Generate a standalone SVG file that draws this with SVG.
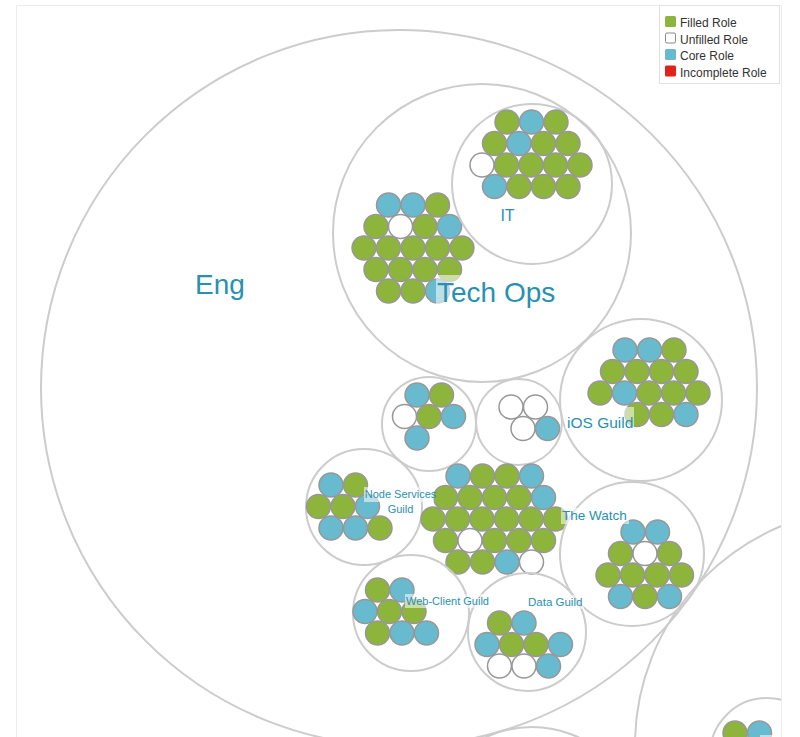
<svg xmlns="http://www.w3.org/2000/svg" width="800" height="737" viewBox="0 0 800 737">
<defs>
<style>
.c{fill:none;stroke:#cccccc;stroke-width:2}
.r{stroke:#979797;stroke-width:1.5}
.g{fill:#8db53b}
.b{fill:#68bbcf}
.w{fill:#ffffff}
.lb{fill:#ffffff;fill-opacity:0.55}
.t{font-family:"Liberation Sans",Arial,sans-serif;fill:#2990b2}
.lg{font-family:"Liberation Sans",Arial,sans-serif;font-size:12px;fill:#333333}
</style>
<clipPath id="page"><rect x="16" y="5" width="765" height="732"/></clipPath>
</defs>
<rect x="0" y="0" width="800" height="737" fill="#ffffff"/>
<path d="M16.5 737 V5.5 H781.5 V737" fill="none" stroke="#ececec" stroke-width="1"/>
<g clip-path="url(#page)">
<g id="eng">
<circle class="c" cx="399" cy="388" r="358"/>
</g>
<g id="other-top">
<circle class="c" cx="872" cy="745" r="237"/>
<circle class="c" cx="532" cy="837" r="110"/>
</g>
<g id="bottom-right">
<circle class="c" cx="767" cy="755" r="57"/>
<circle class="r g" cx="735" cy="733" r="12"/>
<circle class="r b" cx="759.5" cy="733" r="12"/>
<rect class="lb" x="760" y="735" width="30" height="10"/>
</g>
<g id="tech-ops">
<circle class="c" cx="482" cy="233" r="149"/>
<circle class="r b" cx="388.5" cy="205" r="12"/>
<circle class="r b" cx="413" cy="205" r="12"/>
<circle class="r g" cx="437.5" cy="205" r="12"/>
<circle class="r g" cx="376" cy="226.5" r="12"/>
<circle class="r w" cx="400.5" cy="226.5" r="12"/>
<circle class="r g" cx="425" cy="226.5" r="12"/>
<circle class="r b" cx="449.5" cy="226.5" r="12"/>
<circle class="r g" cx="364" cy="248" r="12"/>
<circle class="r g" cx="388.5" cy="248" r="12"/>
<circle class="r g" cx="413" cy="248" r="12"/>
<circle class="r g" cx="437.5" cy="248" r="12"/>
<circle class="r g" cx="462" cy="248" r="12"/>
<circle class="r g" cx="376" cy="269.5" r="12"/>
<circle class="r g" cx="400.5" cy="269.5" r="12"/>
<circle class="r g" cx="425" cy="269.5" r="12"/>
<circle class="r g" cx="449.5" cy="269.5" r="12"/>
<circle class="r g" cx="388.5" cy="291" r="12"/>
<circle class="r g" cx="413" cy="291" r="12"/>
<circle class="r b" cx="437.5" cy="291" r="12"/>
</g>
<g id="it">
<circle class="c" cx="532" cy="184" r="80"/>
<circle class="r g" cx="507" cy="122" r="12"/>
<circle class="r b" cx="531.5" cy="122" r="12"/>
<circle class="r g" cx="556" cy="122" r="12"/>
<circle class="r g" cx="494.5" cy="143.5" r="12"/>
<circle class="r b" cx="519" cy="143.5" r="12"/>
<circle class="r g" cx="543.5" cy="143.5" r="12"/>
<circle class="r g" cx="568" cy="143.5" r="12"/>
<circle class="r w" cx="482" cy="165" r="12"/>
<circle class="r g" cx="506.5" cy="165" r="12"/>
<circle class="r g" cx="531" cy="165" r="12"/>
<circle class="r g" cx="555.5" cy="165" r="12"/>
<circle class="r g" cx="580" cy="165" r="12"/>
<circle class="r b" cx="494.5" cy="186.5" r="12"/>
<circle class="r g" cx="519" cy="186.5" r="12"/>
<circle class="r g" cx="543.5" cy="186.5" r="12"/>
<circle class="r g" cx="568" cy="186.5" r="12"/>
<rect class="lb" x="500" y="207" width="15" height="17"/>
<text class="t" x="507.5" y="221" font-size="16" text-anchor="middle">IT</text>
</g>
<g id="ios-guild">
<circle class="c" cx="641" cy="400" r="81"/>
<circle class="r b" cx="625" cy="350" r="12"/>
<circle class="r b" cx="649.5" cy="350" r="12"/>
<circle class="r g" cx="674" cy="350" r="12"/>
<circle class="r g" cx="612.5" cy="371.5" r="12"/>
<circle class="r g" cx="637" cy="371.5" r="12"/>
<circle class="r g" cx="661.5" cy="371.5" r="12"/>
<circle class="r g" cx="686" cy="371.5" r="12"/>
<circle class="r g" cx="600" cy="393" r="12"/>
<circle class="r b" cx="624.5" cy="393" r="12"/>
<circle class="r g" cx="649" cy="393" r="12"/>
<circle class="r g" cx="673.5" cy="393" r="12"/>
<circle class="r g" cx="698" cy="393" r="12"/>
<circle class="r g" cx="637" cy="414.5" r="12"/>
<circle class="r g" cx="661.5" cy="414.5" r="12"/>
<circle class="r b" cx="686" cy="414.5" r="12"/>
</g>
<g id="team-a">
<circle class="c" cx="429" cy="424" r="47"/>
<circle class="r b" cx="417" cy="395" r="12"/>
<circle class="r g" cx="441.5" cy="395" r="12"/>
<circle class="r w" cx="404.5" cy="416.5" r="12"/>
<circle class="r g" cx="429" cy="416.5" r="12"/>
<circle class="r b" cx="453.5" cy="416.5" r="12"/>
<circle class="r b" cx="417" cy="438" r="12"/>
</g>
<g id="team-b">
<circle class="c" cx="519" cy="422" r="43"/>
<circle class="r w" cx="511" cy="407" r="12"/>
<circle class="r w" cx="535.5" cy="407" r="12"/>
<circle class="r w" cx="523" cy="428.5" r="12"/>
<circle class="r b" cx="547.5" cy="428.5" r="12"/>
</g>
<g id="node-services-guild">
<circle class="c" cx="364" cy="507" r="58"/>
<circle class="r b" cx="331" cy="485" r="12"/>
<circle class="r g" cx="355.5" cy="485" r="12"/>
<circle class="r g" cx="318.5" cy="506.5" r="12"/>
<circle class="r g" cx="343" cy="506.5" r="12"/>
<circle class="r b" cx="367.5" cy="506.5" r="12"/>
<circle class="r b" cx="331" cy="528" r="12"/>
<circle class="r b" cx="355.5" cy="528" r="12"/>
<circle class="r g" cx="380" cy="528" r="12"/>
</g>
<g id="eng-roles">
<circle class="r b" cx="458" cy="476" r="12"/>
<circle class="r g" cx="482.5" cy="476" r="12"/>
<circle class="r g" cx="507" cy="476" r="12"/>
<circle class="r b" cx="531.5" cy="476" r="12"/>
<circle class="r g" cx="445.5" cy="497.5" r="12"/>
<circle class="r g" cx="470" cy="497.5" r="12"/>
<circle class="r g" cx="494.5" cy="497.5" r="12"/>
<circle class="r g" cx="519" cy="497.5" r="12"/>
<circle class="r b" cx="543.5" cy="497.5" r="12"/>
<circle class="r g" cx="433" cy="519" r="12"/>
<circle class="r g" cx="457.5" cy="519" r="12"/>
<circle class="r g" cx="482" cy="519" r="12"/>
<circle class="r g" cx="506.5" cy="519" r="12"/>
<circle class="r g" cx="531" cy="519" r="12"/>
<circle class="r g" cx="555.5" cy="519" r="12"/>
<circle class="r g" cx="445.5" cy="540.5" r="12"/>
<circle class="r w" cx="470" cy="540.5" r="12"/>
<circle class="r g" cx="494.5" cy="540.5" r="12"/>
<circle class="r g" cx="519" cy="540.5" r="12"/>
<circle class="r g" cx="543.5" cy="540.5" r="12"/>
<circle class="r g" cx="458" cy="562" r="12"/>
<circle class="r g" cx="482.5" cy="562" r="12"/>
<circle class="r b" cx="507" cy="562" r="12"/>
<circle class="r w" cx="531.5" cy="562" r="12"/>
</g>
<g id="the-watch">
<circle class="c" cx="632" cy="554" r="72"/>
<circle class="r b" cx="633" cy="532" r="12"/>
<circle class="r b" cx="657.5" cy="532" r="12"/>
<circle class="r g" cx="620.5" cy="553.5" r="12"/>
<circle class="r w" cx="645" cy="553.5" r="12"/>
<circle class="r g" cx="669.5" cy="553.5" r="12"/>
<circle class="r g" cx="608" cy="575" r="12"/>
<circle class="r g" cx="632.5" cy="575" r="12"/>
<circle class="r g" cx="657" cy="575" r="12"/>
<circle class="r g" cx="681.5" cy="575" r="12"/>
<circle class="r b" cx="620.5" cy="596.5" r="12"/>
<circle class="r g" cx="645" cy="596.5" r="12"/>
<circle class="r b" cx="669.5" cy="596.5" r="12"/>
</g>
<g id="web-client-guild">
<circle class="c" cx="411" cy="613" r="58"/>
<circle class="r g" cx="377.5" cy="590" r="12"/>
<circle class="r b" cx="402" cy="590" r="12"/>
<circle class="r b" cx="365" cy="611.5" r="12"/>
<circle class="r g" cx="389.5" cy="611.5" r="12"/>
<circle class="r g" cx="414" cy="611.5" r="12"/>
<circle class="r g" cx="377.5" cy="633" r="12"/>
<circle class="r b" cx="402" cy="633" r="12"/>
<circle class="r b" cx="426.5" cy="633" r="12"/>
</g>
<g id="data-guild">
<circle class="c" cx="527" cy="632" r="59"/>
<circle class="r g" cx="499.5" cy="623" r="12"/>
<circle class="r b" cx="524" cy="623" r="12"/>
<circle class="r b" cx="487" cy="644.5" r="12"/>
<circle class="r g" cx="511.5" cy="644.5" r="12"/>
<circle class="r g" cx="536" cy="644.5" r="12"/>
<circle class="r b" cx="560.5" cy="644.5" r="12"/>
<circle class="r w" cx="499.5" cy="666" r="12"/>
<circle class="r w" cx="524" cy="666" r="12"/>
<circle class="r b" cx="548.5" cy="666" r="12"/>
</g>
<g id="labels">
<text class="t" x="220" y="294" font-size="28" text-anchor="middle">Eng</text>
<rect class="lb" x="436" y="275" width="124" height="33"/>
<text class="t" x="437" y="301.5" font-size="28">Tech Ops</text>
<rect class="lb" x="565" y="407" width="69" height="22"/>
<text class="t" x="567" y="428" font-size="15.5">iOS Guild</text>
<rect class="lb" x="561" y="508" width="68" height="16"/>
<text class="t" x="562" y="520" font-size="13.5">The Watch</text>
<rect class="lb" x="364" y="487" width="70" height="15"/>
<text class="t" x="400.5" y="498" font-size="11" text-anchor="middle">Node Services</text>
<text class="t" x="400.5" y="513" font-size="11" text-anchor="middle">Guild</text>
<rect class="lb" x="405" y="594" width="84" height="14"/>
<text class="t" x="406" y="605" font-size="11">Web-Client Guild</text>
<rect class="lb" x="527" y="595" width="57" height="14"/>
<text class="t" x="528" y="606" font-size="11.5">Data Guild</text>
</g>
</g>
<g id="legend">
<rect x="659.5" y="5.5" width="120" height="78" fill="#ffffff" stroke="#e2e2e2" stroke-width="1"/>
<rect x="665" y="16" width="11" height="11" rx="1.5" fill="#8db53b"/>
<text class="lg" x="680" y="27">Filled Role</text>
<rect x="665.5" y="33" width="10" height="10" rx="1.5" fill="#ffffff" stroke="#8a8a8a" stroke-width="1"/>
<text class="lg" x="680" y="43.5">Unfilled Role</text>
<rect x="665" y="49" width="11" height="11" rx="1.5" fill="#68bbcf"/>
<text class="lg" x="680" y="60">Core Role</text>
<rect x="665" y="65.5" width="11" height="11" rx="1.5" fill="#e0221b"/>
<text class="lg" x="680" y="76.5">Incomplete Role</text>
</g>
</svg>
